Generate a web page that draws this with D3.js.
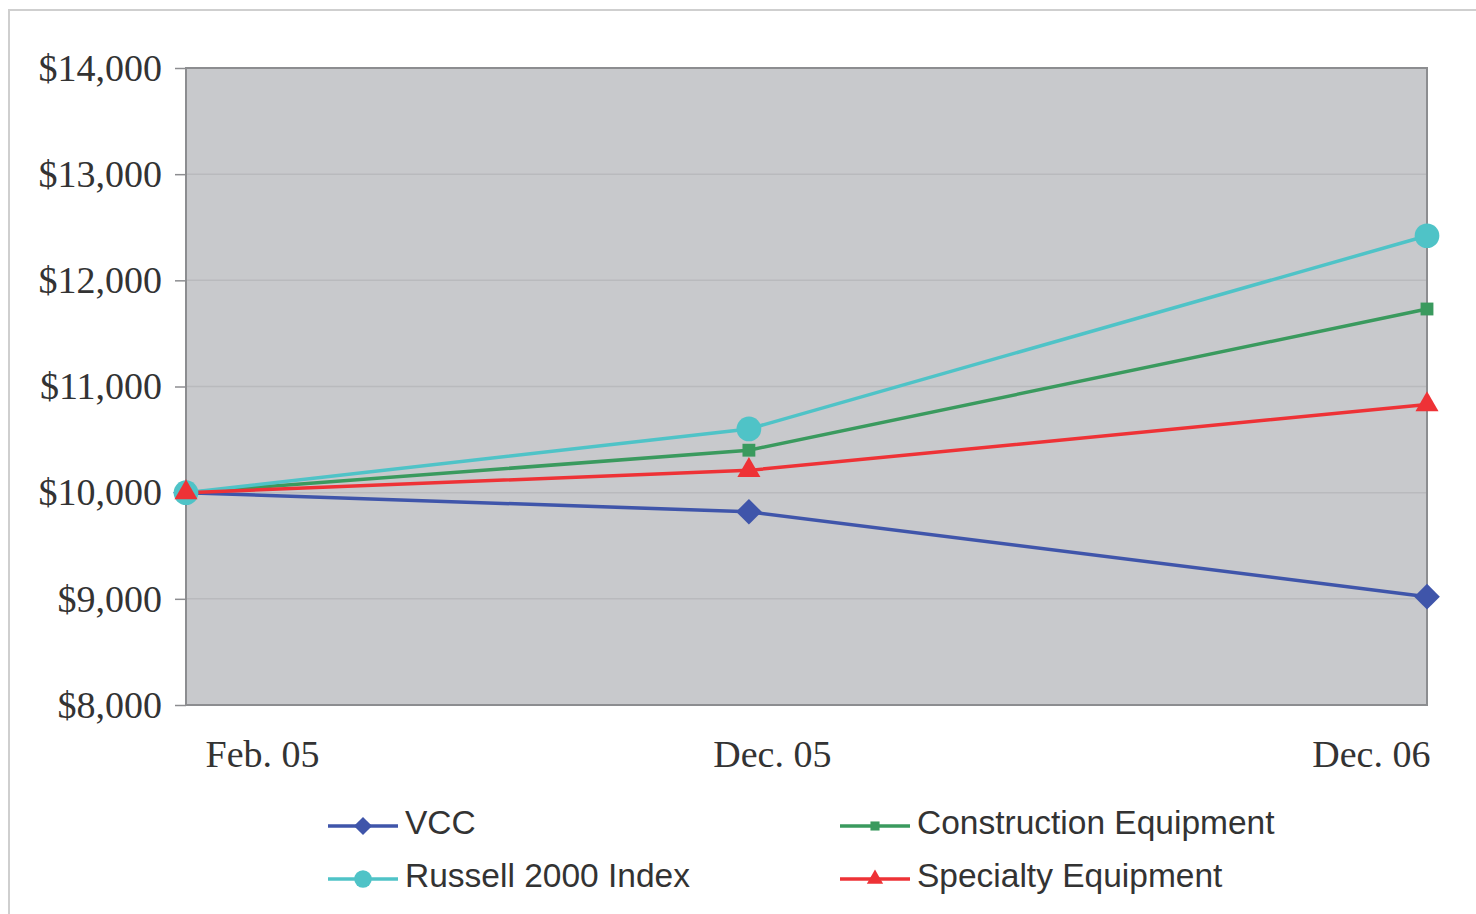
<!DOCTYPE html>
<html>
<head>
<meta charset="utf-8">
<script src="https://cdn.jsdelivr.net/npm/d3@7"></script>
<style>
  body { margin: 0; background: #fff; }
  svg { display: block; }
</style>
</head>
<body>
<div id="chart"></div>
<script>
const width = 1476;
const height = 914;

// data
const periods = ['2005-02-01', '2005-12-01', '2006-12-01'];
const periodLabels = ['Feb. 05', 'Dec. 05', 'Dec. 06'];
const yTicks = [8000, 9000, 10000, 11000, 12000, 13000, 14000];

const vcc = [10000, 9820, 9020];
const construction = [10000, 10400, 11730];
const russell = [10000, 10600, 12420];
const specialty = [10000, 10210, 10830];

const series = [
  {name: 'VCC', values: vcc, color: '#3f55aa', shape: d3.symbolSquare, size: 330, rotate: 45},
  {name: 'Construction Equipment', values: construction, color: '#3a9a5e', shape: d3.symbolSquare, size: 165},
  {name: 'Russell 2000 Index', values: russell, color: '#4fc3c7', shape: d3.symbolCircle, size: 480},
  {name: 'Specialty Equipment', values: specialty, color: '#ee3236', shape: d3.symbolTriangle, size: 230}
];

const parse = d3.timeParse('%Y-%m-%d');
const dates = periods.map(parse);

const margin = {top: 68, right: 49, bottom: 209, left: 186};
const innerW = width - margin.left - margin.right;
const innerH = height - margin.top - margin.bottom;

const svg = d3.select('#chart')
  .append('svg')
    .attr('width', width)
    .attr('height', height);

// outer frame
svg.append('rect')
  .attr('x', 9).attr('y', 10)
  .attr('width', width).attr('height', height)
  .attr('fill', 'none')
  .attr('stroke', '#cfcfcf')
  .attr('stroke-width', 2);

const g = svg.append('g')
  .attr('transform', `translate(${margin.left},${margin.top})`);

const x = d3.scaleTime()
  .domain(d3.extent(dates))
  .range([0, innerW]);

const y = d3.scaleLinear()
  .domain([8000, 14000])
  .range([innerH, 0]);

g.append('rect')
  .attr('width', innerW).attr('height', innerH)
  .attr('fill', '#c8c9cc');

// grid
g.selectAll('.grid')
  .data(yTicks.slice(1, -1))
  .enter().append('line')
    .attr('class', 'grid')
    .attr('x1', 0).attr('x2', innerW)
    .attr('y1', d => y(d)).attr('y2', d => y(d))
    .attr('stroke', '#b9babd')
    .attr('stroke-width', 1.5);

g.append('rect')
  .attr('width', innerW).attr('height', innerH)
  .attr('fill', 'none')
  .attr('stroke', '#8c8d90')
  .attr('stroke-width', 2);

// y axis
const yAxis = d3.axisLeft(y)
  .tickValues(yTicks)
  .tickSize(11)
  .tickPadding(13)
  .tickFormat(d => '$' + d3.format(',')(d));

g.append('g')
  .call(yAxis)
  .call(a => a.select('.domain').remove())
  .call(a => a.selectAll('line').attr('stroke', '#8c8d90').attr('stroke-width', 1.5))
  .call(a => a.selectAll('text')
    .attr('font-family', '"Liberation Serif", "Times New Roman", serif')
    .attr('font-size', 38)
    .attr('fill', '#333'));

// x axis labels (Excel-style placement)
const xAxis = d3.axisBottom(x)
  .tickValues(dates)
  .tickSize(0)
  .tickPadding(35)
  .tickFormat((d, i) => periodLabels[i]);

g.append('g')
  .attr('transform', `translate(0,${innerH})`)
  .call(xAxis)
  .call(a => a.select('.domain').remove())
  .call(a => a.selectAll('text')
    .attr('font-family', '"Liberation Serif", "Times New Roman", serif')
    .attr('font-size', 38)
    .attr('fill', '#333')
    .attr('text-anchor', (d, i) => i === 0 ? 'start' : i === dates.length - 1 ? 'end' : 'middle')
    .attr('dx', (d, i) => i === 0 ? 19 : i === dates.length - 1 ? 3 : 23));

const line = d3.line()
  .x((d, i) => x(dates[i]))
  .y(d => y(d));

const sym = s => d3.symbol().type(s.shape).size(s.size);

// lines
g.selectAll('.chart-line')
  .data(series)
  .enter().append('path')
    .attr('class', 'chart-line')
    .attr('d', d => line(d.values))
    .attr('fill', 'none')
    .attr('stroke', d => d.color)
    .attr('stroke-width', 3.5);

// markers
series.forEach(s => {
  g.selectAll(null)
    .data(s.values)
    .enter().append('path')
      .attr('d', sym(s))
      .attr('transform', (d, i) => `translate(${x(dates[i])},${y(d)}) rotate(${s.rotate || 0})`)
      .attr('fill', s.color);
});

// legend
const legendOrder = [series[0], series[2], series[1], series[3]];
const legend = svg.append('g');
const items = legend.selectAll('.item')
  .data(legendOrder)
  .enter().append('g')
    .attr('class', 'item')
    .attr('transform', (d, i) => `translate(${i < 2 ? 328 : 840},${i % 2 === 0 ? 826 : 879})`);

items.append('line')
  .attr('x1', 0).attr('x2', 70)
  .attr('stroke', d => d.color)
  .attr('stroke-width', 3.5);

items.append('path')
  .attr('d', d => d3.symbol().type(d.shape).size(d.size * 0.5)())
  .attr('transform', d => `translate(35,0) rotate(${d.rotate || 0})`)
  .attr('fill', d => d.color);

items.append('text')
  .attr('x', 77)
  .attr('y', -4)
  .attr('dy', '0.35em')
  .attr('font-family', '"Liberation Sans", Arial, sans-serif')
  .attr('font-size', 33.5)
  .attr('fill', '#333')
  .text(d => d.name);
</script>
</body>
</html>
